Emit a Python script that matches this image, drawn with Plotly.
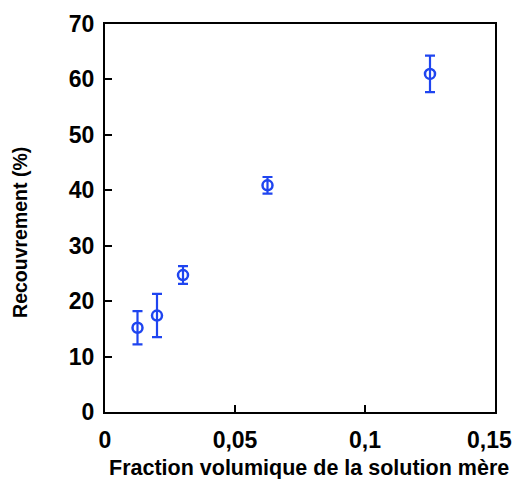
import plotly.graph_objects as go

fraction = [0.0125, 0.02, 0.03, 0.0625, 0.125]
recouvrement = [15.2, 17.4, 24.7, 40.9, 61.0]
erreur = [3.0, 3.9, 1.6, 1.5, 3.3]

x_ticks = [0, 0.05, 0.1, 0.15]
x_labels = ["0", "0,05", "0,1", "0,15"]
y_ticks = [0, 10, 20, 30, 40, 50, 60, 70]

x_title = "Fraction volumique de la solution mère"
y_title = "Recouvrement (%)"

blue = "#1f45f0"
font = "Liberation Sans, Arial, sans-serif"
tick_font = dict(size=23, family=font, weight="bold", color="black")

fig = go.Figure(go.Scatter(
    x=fraction, y=recouvrement, mode="markers",
    marker=dict(symbol="circle-open", size=10, color=blue, line=dict(width=2.5)),
    error_y=dict(type="data", array=erreur, visible=True, color=blue, thickness=2.2, width=5),
    cliponaxis=False,
))

# page body has an 8px margin, so the figure is offset to fit the 522x479 window
fig.update_layout(
    width=514, height=471,
    margin=dict(l=97, r=27, t=16, b=67),
    plot_bgcolor="white", paper_bgcolor="white",
    showlegend=False,
    font=dict(family=font, color="black"),
)
# last x label is drawn as an annotation, nudged left so it stays inside the page
fig.update_xaxes(
    range=[0, 0.15], tickvals=x_ticks, ticktext=x_labels[:-1] + [""],
    ticks="inside", ticklen=7, tickwidth=2, tickcolor="black",
    showline=True, linewidth=2, linecolor="black", mirror=True,
    showgrid=False, zeroline=False, automargin=False,
    ticklabelstandoff=6,
    tickfont=tick_font,
)
fig.update_yaxes(
    range=[0, 70], tickvals=y_ticks,
    ticks="inside", ticklen=7, tickwidth=2, tickcolor="black",
    showline=True, linewidth=2, linecolor="black", mirror=True,
    showgrid=False, zeroline=False, automargin=False,
    ticklabelstandoff=4,
    tickfont=tick_font,
)

fig.add_annotation(
    text=x_labels[-1], xref="x", yref="paper",
    x=x_ticks[-1], y=-0.072, xanchor="center", yanchor="middle", xshift=-6,
    showarrow=False, font=tick_font,
)
fig.add_annotation(
    text="<b>" + x_title + "</b>", xref="paper", yref="paper",
    x=0.523, y=-0.144, xanchor="center", yanchor="middle",
    showarrow=False, font=dict(size=21.5, family=font, color="black"),
)
fig.add_annotation(
    text="<b>" + y_title + "</b>", xref="paper", yref="paper",
    x=-0.218, y=0.464, xanchor="center", yanchor="middle", textangle=-90,
    showarrow=False, font=dict(size=19.5, family=font, color="black"),
)

fig.write_html("out.html")
